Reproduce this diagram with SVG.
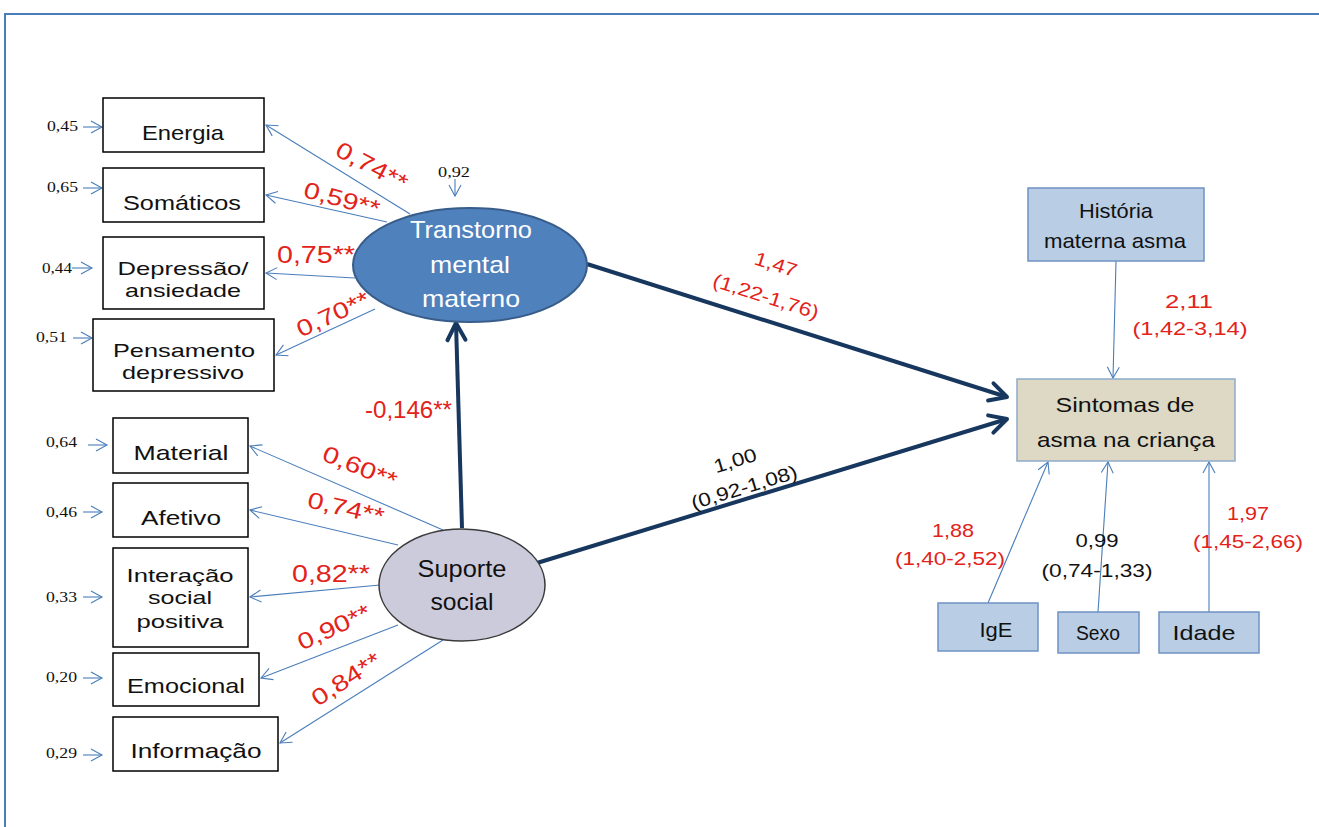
<svg xmlns="http://www.w3.org/2000/svg" width="1319" height="827" viewBox="0 0 1319 827">
<defs>
<style>
.bg{fill:#fff}
.frame{stroke:#4A7EBB;stroke-width:2;fill:none}
.box{fill:#fff;stroke:#000;stroke-width:1.5}
.bbox{fill:#B9CDE5;stroke:#6F93C4;stroke-width:1.5}
.sbox{fill:#DDD9C4;stroke:#8FAACB;stroke-width:1.5}
.lbl{font-family:"Liberation Sans",Arial,sans-serif;font-size:21px;fill:#111;text-anchor:middle}
.lbl2{font-family:"Liberation Sans",Arial,sans-serif;font-size:19px;fill:#111;text-anchor:middle}
.elbl{font-family:"Liberation Sans",Arial,sans-serif;font-size:24px;text-anchor:middle}
.err{font-family:"Liberation Serif","Times New Roman",serif;font-size:15px;fill:#111}
.red{font-family:"Liberation Sans",Arial,sans-serif;font-size:23px;fill:#E2231A}
.coef{font-family:"Liberation Sans",Arial,sans-serif;font-size:19px;text-anchor:middle}
.cr{fill:#E2231A}
.ck{fill:#111}
.thin{stroke:#4A7EBB;stroke-width:1.1;fill:none;marker-end:url(#ah)}
.thick{stroke:#17375E;stroke-width:4;fill:none;marker-end:url(#ahb)}
</style>
<marker id="ah" markerUnits="userSpaceOnUse" viewBox="0 0 14 14" refX="12" refY="7" markerWidth="14" markerHeight="14" orient="auto">
<path d="M1,1 L12,7 L1,13" fill="none" stroke="#4A7EBB" stroke-width="1.1"/>
</marker>
<marker id="ahb" markerUnits="userSpaceOnUse" viewBox="0 0 24 24" refX="21" refY="12" markerWidth="24" markerHeight="24" orient="auto">
<path d="M4,3 L21,12 L4,21" fill="none" stroke="#17375E" stroke-width="4" stroke-linecap="round" stroke-linejoin="round"/>
</marker>
</defs>
<rect class="bg" x="0" y="0" width="1319" height="827"/>
<path class="frame" d="M5,827 L5,14 L1319,14"/>

<g id="connectors">
<line class="thin" x1="410" y1="214" x2="266" y2="125"/>
<line class="thin" x1="387" y1="222" x2="266" y2="195"/>
<line class="thin" x1="355" y1="278" x2="266" y2="273"/>
<line class="thin" x1="375" y1="309" x2="276" y2="355"/>
<line class="thin" x1="443" y1="530" x2="250" y2="446"/>
<line class="thin" x1="398" y1="545" x2="250" y2="510"/>
<line class="thin" x1="380" y1="585" x2="250" y2="597"/>
<line class="thin" x1="398" y1="625" x2="261" y2="678"/>
<line class="thin" x1="443" y1="640" x2="280" y2="743"/>
<line class="thin" x1="83" y1="127" x2="102" y2="127"/>
<line class="thin" x1="83" y1="188" x2="102" y2="188"/>
<line class="thin" x1="72" y1="268" x2="92" y2="268"/>
<line class="thin" x1="73" y1="338" x2="92" y2="338"/>
<line class="thin" x1="88" y1="445" x2="107" y2="445"/>
<line class="thin" x1="83" y1="512" x2="102" y2="512"/>
<line class="thin" x1="83" y1="597" x2="102" y2="597"/>
<line class="thin" x1="83" y1="678" x2="102" y2="678"/>
<line class="thin" x1="83" y1="755" x2="102" y2="755"/>
<line class="thin" x1="455" y1="179" x2="455" y2="196"/>
<line class="thin" x1="1116" y1="261" x2="1113" y2="378"/>
<line class="thin" x1="988" y1="603" x2="1048" y2="462"/>
<line class="thin" x1="1098" y1="612" x2="1108" y2="462"/>
<line class="thin" x1="1209" y1="612" x2="1209" y2="462"/>
<line class="thick" x1="462" y1="528" x2="456" y2="323"/>
<line class="thick" x1="587" y1="264" x2="1007" y2="397"/>
<line class="thick" x1="537" y1="563" x2="1007" y2="419"/>
</g>

<g id="n-energia"><rect class="box" x="103" y="98" width="161" height="54"/><text class="lbl" x="183" y="140" textLength="82" lengthAdjust="spacingAndGlyphs">Energia</text></g>
<g id="n-somaticos"><rect class="box" x="103" y="168" width="161" height="54"/><text class="lbl" x="182" y="210" textLength="118" lengthAdjust="spacingAndGlyphs">Somáticos</text></g>
<g id="n-depressao"><rect class="box" x="103" y="237" width="161" height="72"/><text class="lbl2" x="183" y="275" textLength="131" lengthAdjust="spacingAndGlyphs">Depressão/</text><text class="lbl2" x="183" y="297" textLength="116" lengthAdjust="spacingAndGlyphs">ansiedade</text></g>
<g id="n-pensamento"><rect class="box" x="93" y="319" width="181" height="72"/><text class="lbl2" x="184" y="357" textLength="142" lengthAdjust="spacingAndGlyphs">Pensamento</text><text class="lbl2" x="183" y="379" textLength="122" lengthAdjust="spacingAndGlyphs">depressivo</text></g>

<g id="n-material"><rect class="box" x="113" y="418" width="135" height="55"/><text class="lbl" x="181" y="460" textLength="95" lengthAdjust="spacingAndGlyphs">Material</text></g>
<g id="n-afetivo"><rect class="box" x="113" y="483" width="135" height="54"/><text class="lbl" x="181" y="525" textLength="80" lengthAdjust="spacingAndGlyphs">Afetivo</text></g>
<g id="n-interacao"><rect class="box" x="113" y="548" width="135" height="99"/><text class="lbl2" x="180" y="582" textLength="107" lengthAdjust="spacingAndGlyphs">Interação</text><text class="lbl2" x="180" y="604" textLength="64" lengthAdjust="spacingAndGlyphs">social</text><text class="lbl2" x="180" y="628" textLength="87" lengthAdjust="spacingAndGlyphs">positiva</text></g>
<g id="n-emocional"><rect class="box" x="113" y="653" width="146" height="53"/><text class="lbl" x="186" y="693" textLength="118" lengthAdjust="spacingAndGlyphs">Emocional</text></g>
<g id="n-informacao"><rect class="box" x="113" y="717" width="165" height="54"/><text class="lbl" x="196" y="758" textLength="131" lengthAdjust="spacingAndGlyphs">Informação</text></g>

<g id="n-transtorno"><ellipse cx="470" cy="265" rx="117" ry="57" fill="#4F81BD" stroke="#385D8A" stroke-width="2"/>
<text class="elbl" x="471" y="238" fill="#fff" textLength="122" lengthAdjust="spacingAndGlyphs">Transtorno</text>
<text class="elbl" x="470" y="273" fill="#fff" textLength="80" lengthAdjust="spacingAndGlyphs">mental</text>
<text class="elbl" x="471" y="307" fill="#fff" textLength="98" lengthAdjust="spacingAndGlyphs">materno</text></g>

<g id="n-suporte"><ellipse cx="462" cy="585" rx="83" ry="56" fill="#CBCBDC" stroke="#3A3A3A" stroke-width="1.5"/>
<text class="elbl" x="462" y="577" fill="#111" textLength="89" lengthAdjust="spacingAndGlyphs">Suporte</text>
<text class="elbl" x="462" y="610" fill="#111" textLength="63" lengthAdjust="spacingAndGlyphs">social</text></g>

<g id="n-historia"><rect class="bbox" x="1028" y="188" width="176" height="73"/><text class="lbl" x="1116" y="218" textLength="74" lengthAdjust="spacingAndGlyphs">História</text><text class="lbl" x="1115" y="248" textLength="142" lengthAdjust="spacingAndGlyphs">materna asma</text></g>
<g id="n-sintomas"><rect class="sbox" x="1017" y="379" width="218" height="82"/><text class="lbl" x="1125" y="412" font-size="23" textLength="139" lengthAdjust="spacingAndGlyphs">Sintomas de</text><text class="lbl" x="1126" y="447" font-size="23" textLength="178" lengthAdjust="spacingAndGlyphs">asma na criança</text></g>
<g id="n-ige"><rect class="bbox" x="938" y="603" width="100" height="48"/><text class="lbl" x="996" y="637" font-size="22" textLength="33" lengthAdjust="spacingAndGlyphs">IgE</text></g>
<g id="n-sexo"><rect class="bbox" x="1058" y="612" width="81" height="41"/><text class="lbl" x="1098" y="640" font-size="19" textLength="44" lengthAdjust="spacingAndGlyphs">Sexo</text></g>
<g id="n-idade"><rect class="bbox" x="1159" y="612" width="100" height="41"/><text class="lbl" x="1204" y="640" font-size="19" textLength="63" lengthAdjust="spacingAndGlyphs">Idade</text></g>

<g id="labels">
<text class="err" x="47" y="131" textLength="31" lengthAdjust="spacingAndGlyphs">0,45</text>
<text class="err" x="47" y="192" textLength="31" lengthAdjust="spacingAndGlyphs">0,65</text>
<text class="err" x="42" y="273" textLength="30" lengthAdjust="spacingAndGlyphs">0,44</text>
<text class="err" x="36" y="342" textLength="31" lengthAdjust="spacingAndGlyphs">0,51</text>
<text class="err" x="46" y="447" textLength="31" lengthAdjust="spacingAndGlyphs">0,64</text>
<text class="err" x="46" y="517" textLength="31" lengthAdjust="spacingAndGlyphs">0,46</text>
<text class="err" x="46" y="602" textLength="31" lengthAdjust="spacingAndGlyphs">0,33</text>
<text class="err" x="46" y="682" textLength="31" lengthAdjust="spacingAndGlyphs">0,20</text>
<text class="err" x="46" y="758" textLength="31" lengthAdjust="spacingAndGlyphs">0,29</text>
<text class="err" x="438" y="177" textLength="32" lengthAdjust="spacingAndGlyphs">0,92</text>

<text class="red" transform="translate(372,166) rotate(28)" x="-39" y="8" textLength="78" lengthAdjust="spacingAndGlyphs">0,74**</text>
<text class="red" transform="translate(342,199) rotate(15)" x="-39" y="8" textLength="78" lengthAdjust="spacingAndGlyphs">0,59**</text>
<text class="red" x="277" y="263" textLength="78" lengthAdjust="spacingAndGlyphs">0,75**</text>
<text class="red" transform="translate(333,314) rotate(-25)" x="-39" y="8" textLength="78" lengthAdjust="spacingAndGlyphs">0,70**</text>
<text class="red" transform="translate(360,467) rotate(22)" x="-39" y="8" textLength="78" lengthAdjust="spacingAndGlyphs">0,60**</text>
<text class="red" transform="translate(346,508) rotate(13)" x="-39" y="8" textLength="78" lengthAdjust="spacingAndGlyphs">0,74**</text>
<text class="red" x="292" y="582" font-size="22" textLength="78" lengthAdjust="spacingAndGlyphs">0,82**</text>
<text class="red" transform="translate(334,627) rotate(-25)" x="-39" y="8" textLength="78" lengthAdjust="spacingAndGlyphs">0,90**</text>
<text class="red" transform="translate(346,679) rotate(-33)" x="-39" y="8" textLength="78" lengthAdjust="spacingAndGlyphs">0,84**</text>
<text class="red" x="365" y="418" font-size="18" textLength="87" lengthAdjust="spacingAndGlyphs">-0,146**</text>

<text class="coef cr" transform="translate(776,264) rotate(17.6)" x="0" y="7" textLength="44" lengthAdjust="spacingAndGlyphs">1,47</text>
<text class="coef cr" transform="translate(766,296) rotate(17.6)" x="0" y="7" textLength="110" lengthAdjust="spacingAndGlyphs">(1,22-1,76)</text>
<text class="coef ck" transform="translate(735,460) rotate(-17)" x="0" y="7" textLength="44" lengthAdjust="spacingAndGlyphs">1,00</text>
<text class="coef ck" transform="translate(744,487) rotate(-17)" x="0" y="7" textLength="110" lengthAdjust="spacingAndGlyphs">(0,92-1,08)</text>

<text class="coef cr" x="1189" y="308" textLength="48" lengthAdjust="spacingAndGlyphs">2,11</text>
<text class="coef cr" x="1190" y="335" textLength="115" lengthAdjust="spacingAndGlyphs">(1,42-3,14)</text>
<text class="coef cr" x="953" y="537" textLength="42" lengthAdjust="spacingAndGlyphs">1,88</text>
<text class="coef cr" x="950" y="565" textLength="110" lengthAdjust="spacingAndGlyphs">(1,40-2,52)</text>
<text class="coef ck" x="1097" y="547" textLength="43" lengthAdjust="spacingAndGlyphs">0,99</text>
<text class="coef ck" x="1097" y="577" textLength="111" lengthAdjust="spacingAndGlyphs">(0,74-1,33)</text>
<text class="coef cr" x="1248" y="520" textLength="42" lengthAdjust="spacingAndGlyphs">1,97</text>
<text class="coef cr" x="1248" y="548" textLength="110" lengthAdjust="spacingAndGlyphs">(1,45-2,66)</text>
</g>
</svg>
